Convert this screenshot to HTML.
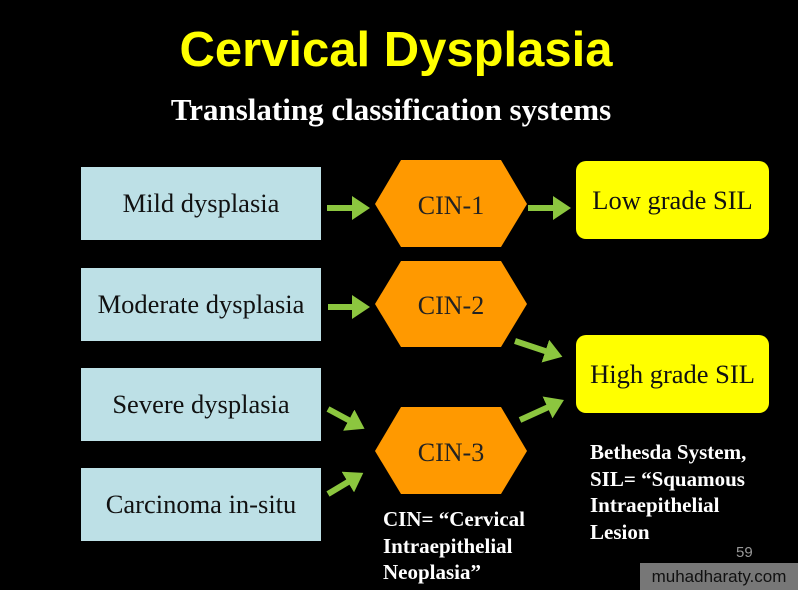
<!DOCTYPE html>
<html><head><style>
body{margin:0;width:798px;height:590px;background:#000;position:relative;overflow:hidden;font-family:"Liberation Serif",serif}
.t{position:absolute;white-space:nowrap}
.b{position:absolute;left:81px;width:240px;height:73px;background:#bde0e6;color:#111;font-size:26.5px;display:flex;align-items:center;justify-content:center}
.y{position:absolute;left:576px;width:193px;height:78px;background:#ffff00;border-radius:10px;color:#111;font-size:26.5px;display:flex;align-items:center;justify-content:center}
.w{color:#fff;font-size:21px;line-height:26.5px;font-weight:bold}
</style></head><body>
<div class="t" style="left:0;width:792px;text-align:center;top:22px;font-family:'Liberation Sans',sans-serif;font-weight:bold;font-size:49px;color:#ffff00">Cervical Dysplasia</div>
<div class="t" style="left:0;width:782px;text-align:center;top:92px;font-weight:bold;font-size:31px;color:#fff">Translating classification systems</div>
<div class="b" style="top:167px">Mild dysplasia</div>
<div class="b" style="top:268px">Moderate dysplasia</div>
<div class="b" style="top:368px">Severe dysplasia</div>
<div class="b" style="top:468px">Carcinoma in-situ</div>
<div class="y" style="top:161px">Low grade SIL</div>
<div class="y" style="top:335px">High grade SIL</div>
<svg width="798" height="590" style="position:absolute;left:0;top:0">
<defs><marker id="a" markerWidth="4" markerHeight="4" refX="1" refY="2" orient="auto" markerUnits="strokeWidth"><path d="M0,0L3,2L0,4z" fill="#8cc63f"/></marker></defs>
<g fill="#ff9900">
<polygon points="375,204 401,160 501,160 527,204 501,247 401,247"/>
<polygon points="375,304 401,261 501,261 527,304 501,347 401,347"/>
<polygon points="375,451 401,407 501,407 527,451 501,494 401,494"/>
</g>
<g font-size="26" fill="#222" text-anchor="middle" font-family="Liberation Serif,serif">
<text x="451" y="214">CIN-1</text><text x="451" y="314">CIN-2</text><text x="451" y="461">CIN-3</text>
</g>
<g stroke="#8cc63f" stroke-width="6" marker-end="url(#a)">
<line x1="327" y1="208" x2="358" y2="208"/>
<line x1="328" y1="307" x2="358" y2="307"/>
<line x1="528" y1="208" x2="559" y2="208"/>
<line x1="515" y1="341" x2="551" y2="353"/>
<line x1="520" y1="420" x2="553" y2="405"/>
<line x1="328" y1="409" x2="354" y2="423"/>
<line x1="328" y1="494" x2="353" y2="479"/>
</g>
</svg>
<div class="t w" style="left:383px;top:506px">CIN= “Cervical<br>Intraepithelial<br>Neoplasia”</div>
<div class="t w" style="left:590px;top:439px">Bethesda System,<br>SIL= “Squamous<br>Intraepithelial<br>Lesion</div>
<div class="t" style="left:736px;top:544px;color:#999;font-family:'Liberation Sans',sans-serif;font-size:15px">59</div>
<div class="t" style="left:640px;top:563px;width:158px;height:27px;background:#777;color:#111;font-family:'Liberation Sans',sans-serif;font-size:17px;line-height:27px;text-align:center">muhadharaty.com</div>
</body></html>
